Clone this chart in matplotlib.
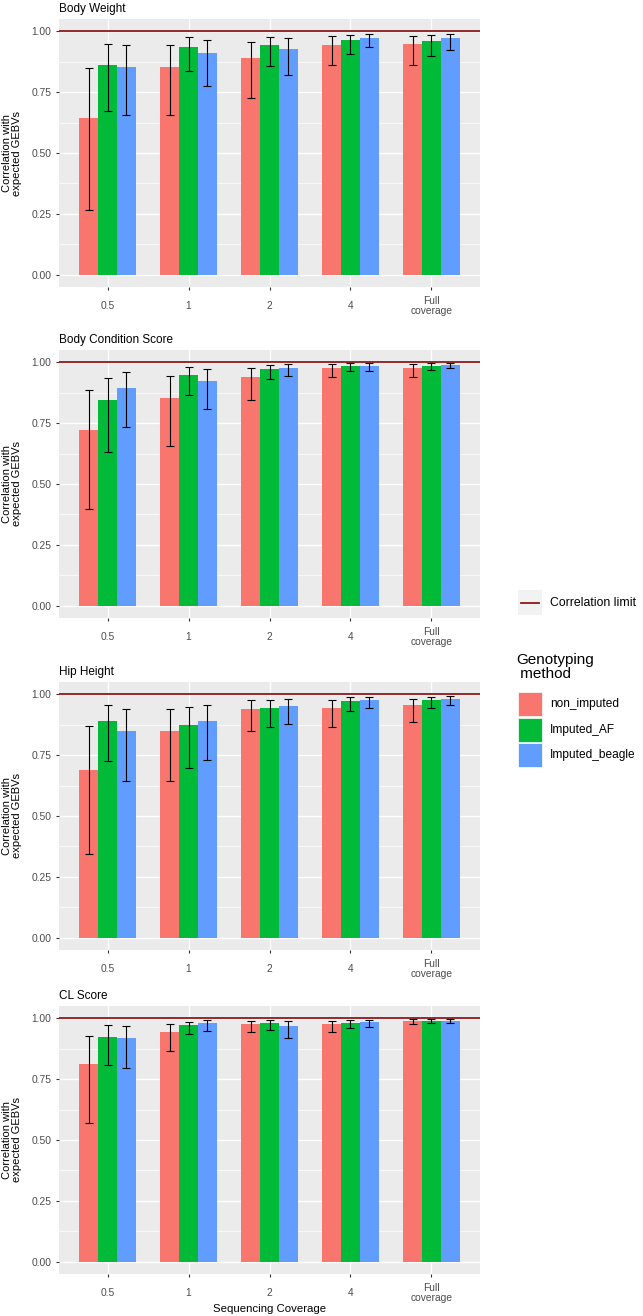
import matplotlib
matplotlib.use("Agg")
import matplotlib.pyplot as plt
import numpy as np
from matplotlib.patches import Rectangle
from matplotlib.lines import Line2D

plt.rcParams['font.family'] = ['Liberation Sans', 'DejaVu Sans']

# data
coverage = ['0.5', '1', '2', '4', 'Full\ncoverage']
methods = ['non_imputed', 'Imputed_AF', 'Imputed_beagle']
colors = ['#F8766D', '#00BA38', '#619CFF']
traits = ['Body Weight', 'Body Condition Score', 'Hip Height', 'CL Score']

# mean correlation, per trait -> per method -> per coverage
bw_mean = [[0.643, 0.854, 0.888, 0.944, 0.947],
           [0.862, 0.934, 0.944, 0.963, 0.960],
           [0.855, 0.909, 0.928, 0.974, 0.970]]
bw_lo = [[0.265, 0.655, 0.727, 0.860, 0.862],
         [0.673, 0.836, 0.859, 0.905, 0.900],
         [0.655, 0.774, 0.821, 0.935, 0.924]]
bw_hi = [[0.850, 0.944, 0.955, 0.980, 0.980],
         [0.948, 0.975, 0.978, 0.986, 0.985],
         [0.944, 0.965, 0.971, 0.989, 0.988]]

bcs_mean = [[0.722, 0.855, 0.938, 0.975, 0.975],
            [0.843, 0.947, 0.971, 0.985, 0.986],
            [0.892, 0.923, 0.978, 0.986, 0.989]]
bcs_lo = [[0.398, 0.657, 0.844, 0.940, 0.940],
          [0.631, 0.865, 0.930, 0.964, 0.969],
          [0.736, 0.807, 0.944, 0.964, 0.976]]
bcs_hi = [[0.885, 0.943, 0.975, 0.992, 0.992],
          [0.937, 0.980, 0.990, 0.996, 0.996],
          [0.958, 0.970, 0.992, 0.996, 0.996]]

hh_mean = [[0.690, 0.848, 0.939, 0.945, 0.955],
           [0.888, 0.874, 0.945, 0.971, 0.977],
           [0.850, 0.888, 0.951, 0.977, 0.982]]
hh_lo = [[0.343, 0.642, 0.847, 0.866, 0.887],
         [0.727, 0.699, 0.867, 0.930, 0.945],
         [0.645, 0.730, 0.877, 0.943, 0.956]]
hh_hi = [[0.869, 0.939, 0.975, 0.978, 0.982],
         [0.956, 0.949, 0.978, 0.989, 0.990],
         [0.940, 0.956, 0.981, 0.990, 0.993]]

cl_mean = [[0.813, 0.945, 0.978, 0.977, 0.989],
           [0.922, 0.974, 0.981, 0.982, 0.990],
           [0.917, 0.980, 0.967, 0.985, 0.990]]
cl_lo = [[0.570, 0.864, 0.944, 0.944, 0.975],
         [0.809, 0.936, 0.952, 0.959, 0.980],
         [0.797, 0.947, 0.918, 0.962, 0.980]]
cl_hi = [[0.925, 0.978, 0.990, 0.990, 0.995],
         [0.971, 0.985, 0.992, 0.993, 0.995],
         [0.967, 0.992, 0.988, 0.993, 0.995]]

corr_limit = 1.0

all_mean = [bw_mean, bcs_mean, hh_mean, cl_mean]
all_lo = [bw_lo, bcs_lo, hh_lo, cl_lo]
all_hi = [bw_hi, bcs_hi, hh_hi, cl_hi]

fig = plt.figure(figsize=(6.43, 13.16), dpi=100)

W, H = 643.0, 1316.0
left, width = 59 / W, 421 / W
tops = [19, 350, 682, 1006]
ph = 268

x = np.arange(len(coverage))
bw = 0.7 / 3

for k, trait in enumerate(traits):
    ax = fig.add_axes([left, 1 - (tops[k] + ph) / H, width, ph / H])
    ax.set_facecolor('#EBEBEB')
    for s in ax.spines.values():
        s.set_visible(False)
    ax.set_xlim(-0.6, len(coverage) - 0.4)
    ax.set_ylim(-0.05, 1.05)
    ax.set_yticks([0, 0.25, 0.5, 0.75, 1.0])
    ax.set_yticklabels(['0.00', '0.25', '0.50', '0.75', '1.00'])
    ax.set_yticks([0.125, 0.375, 0.625, 0.875], minor=True)
    ax.set_xticks(x)
    ax.set_xticklabels(coverage, linespacing=1.0, va='center')
    ax.grid(True, which='major', color='white', linewidth=1.0)
    ax.grid(True, which='minor', axis='y', color='white', linewidth=0.5)
    ax.set_axisbelow(True)
    ax.tick_params(axis='both', which='major', length=2.5, width=0.8, color='#333333',
                   labelsize=7.4, labelcolor='#4D4D4D', pad=3)
    ax.tick_params(axis='x', pad=11)
    ax.tick_params(which='minor', length=0)

    for m in range(3):
        xs = x + (m - 1) * bw
        mean = np.array(all_mean[k][m])
        lo = np.array(all_lo[k][m])
        hi = np.array(all_hi[k][m])
        ax.bar(xs, mean, width=bw, color=colors[m], zorder=2)
        ax.errorbar(xs, mean, yerr=[mean - lo, hi - mean], fmt='none', ecolor='black',
                    elinewidth=0.8, capsize=2.8, capthick=0.8, zorder=3)

    ax.axhline(corr_limit, color='#8B1A1A', linewidth=1.3, zorder=4)
    ax.set_title(trait, loc='left', fontsize=8.5, pad=5)
    ax.set_ylabel('Correlation with\nexpected GEBVs', fontsize=8, linespacing=1.0, labelpad=7)
    if k == len(traits) - 1:
        ax.set_xlabel('Sequencing Coverage', fontsize=8.2, labelpad=1)

# legend: correlation limit
fig.add_artist(Rectangle((518 / W, 1 - 615 / H), 24 / W, 25 / H, transform=fig.transFigure,
                         facecolor='#F2F2F2', edgecolor='none'))
fig.add_artist(Line2D([521 / W, 539 / W], [1 - 602.5 / H, 1 - 602.5 / H], transform=fig.transFigure,
                      color='#8B1A1A', linewidth=1.3))
fig.text(550 / W, 1 - 602.5 / H, 'Correlation limit', fontsize=8.8, va='center', ha='left')

# legend: genotyping method
fig.text(516 / W, 1 - 667 / H, 'Genotyping\n method', fontsize=11, va='center', ha='left',
         linespacing=1.0)
for m in range(3):
    y0 = 692 + m * 25.5
    fig.add_artist(Rectangle((518 / W, 1 - (y0 + 24) / H), 24 / W, 24 / H,
                             transform=fig.transFigure, facecolor=colors[m], edgecolor='white',
                             linewidth=0.5))
    fig.text(550 / W, 1 - (y0 + 12) / H, methods[m], fontsize=8.6, va='center', ha='left')

plt.savefig('out.png', dpi=100)
